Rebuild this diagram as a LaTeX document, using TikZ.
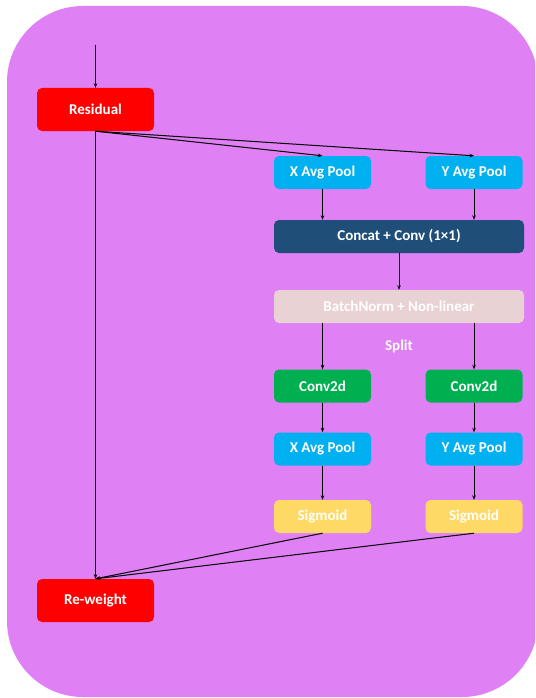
\documentclass[tikz,border=0pt]{standalone}
\usepackage{fontspec}
\setmainfont{Carlito}
\usetikzlibrary{arrows.meta}
\usetikzlibrary{positioning}

\definecolor{bgpurple}{RGB}{223,128,245}
\definecolor{resred}{RGB}{255,0,0}
\definecolor{poolblue}{RGB}{0,176,240}
\definecolor{concatblue}{RGB}{31,78,121}
\definecolor{bnpink}{RGB}{232,210,212}
\definecolor{convgreen}{RGB}{0,176,80}
\definecolor{sigyellow}{RGB}{255,217,102}

\begin{document}
\begin{tikzpicture}[x=1pt, y=-1pt,
    block/.style={rectangle, rounded corners=5pt, text=white, inner sep=0pt,
        font=\bfseries\fontsize{15}{17}\selectfont, minimum height=33pt},
    redbox/.style={block, fill=resred, minimum width=117pt, minimum height=43pt},
    smallbox/.style={block, minimum width=97pt},
    widebox/.style={block, minimum width=250pt},
    arr/.style={-{Stealth[length=4.5pt,width=3.5pt]}, line width=1pt}]
            \useasboundingbox (0,0) rectangle (535,698);
            \clip (0,0) rectangle (535,698);
            % Background panel
            \fill[bgpurple, rounded corners=76pt] (7,6) rectangle (538,697);

            % Residual branch
            \coordinate (input) at (95.5,45);
            \node[redbox] (residual) at (95.5,109.5) {Residual};
            \node[redbox] (reweight) at (95.5,600.5) {Re-weight};

            % Coordinate attention branch
            \node[smallbox, fill=poolblue] (xpool) at (322.5,172.5) {X Avg Pool};
            \node[smallbox, fill=poolblue] (ypool) at (474,172.5) {Y Avg Pool};
            \node[widebox, fill=concatblue] (concat) at (399,236.5) {Concat + Conv (1\texttimes1)};
            \node[widebox, fill=bnpink] (bnorm) at (399,306.5) {BatchNorm + Non-linear};
            \node[text=white, font=\bfseries\fontsize{15}{17}\selectfont] (split) at (399,346) {Split};
            \node[smallbox, fill=convgreen] (xconv) at (322.5,386) {Conv2d};
            \node[smallbox, fill=convgreen] (yconv) at (474,386) {Conv2d};
            \node[smallbox, fill=poolblue] (xpooltwo) at (322.5,449) {X Avg Pool};
            \node[smallbox, fill=poolblue] (ypooltwo) at (474,449) {Y Avg Pool};
            \node[smallbox, fill=sigyellow] (xsig) at (322.5,516.5) {Sigmoid};
            \node[smallbox, fill=sigyellow] (ysig) at (474,516.5) {Sigmoid};

            \draw[arr] (input) -- (residual);
            \draw[arr] (residual.south) -- (reweight.north);
            \draw[arr] (residual.south) -- (xpool.north);
            \draw[arr] (residual.south) -- (ypool.north);
            \draw[arr] (xpool) -- (xpool |- concat.north);
            \draw[arr] (ypool) -- (ypool |- concat.north);
            \draw[arr] (concat) -- (bnorm);
            \draw[arr] (bnorm.south -| xconv) -- (xconv);
            \draw[arr] (bnorm.south -| yconv) -- (yconv);
            \draw[arr] (xconv) -- (xpooltwo);
            \draw[arr] (yconv) -- (ypooltwo);
            \draw[arr] (xpooltwo) -- (xsig);
            \draw[arr] (ypooltwo) -- (ysig);
            \draw[arr] (xsig.south) -- (reweight.north);
            \draw[arr] (ysig.south) -- (reweight.north);
        \end{tikzpicture}
\end{document}
